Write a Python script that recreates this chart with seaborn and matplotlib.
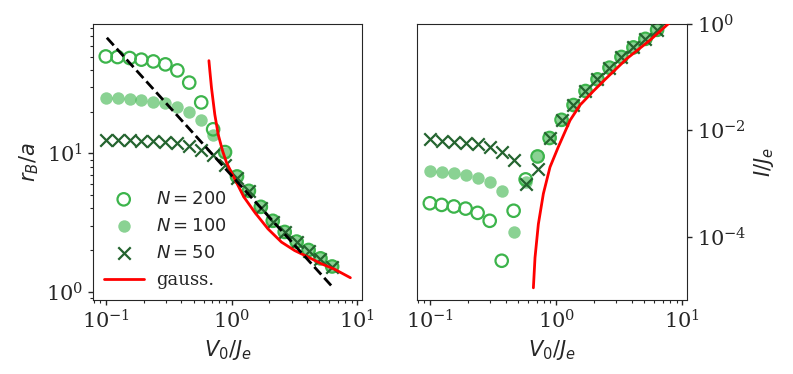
import matplotlib
matplotlib.use("Agg")
import matplotlib.pyplot as plt
from matplotlib.ticker import NullLocator, FixedLocator, LogLocator
import numpy as np
import pandas as pd
import seaborn as sns

# ---------------- data ----------------
v0 = [0.100, 0.124, 0.155, 0.192, 0.239, 0.298, 0.371, 0.461, 0.574, 0.714,
      0.888, 1.105, 1.374, 1.710, 2.128, 2.647, 3.293, 4.097, 5.097, 6.310]

# left panel: r_B / a
rb_n200 = [50.1, 49.6, 48.8, 47.5, 46.1, 43.9, 39.7, 32.4, 23.3, 14.9,
           10.2, 6.8, 5.35, 4.1, 3.25, 2.7, 2.3, 2.0, 1.74, 1.52]
rb_n100 = [25.2, 24.9, 24.5, 24.2, 23.5, 22.9, 21.7, 19.9, 17.4, 13.5,
           10.0, 6.8, 5.35, 4.1, 3.25, 2.7, 2.3, 2.0, 1.74, 1.52]
rb_n50 = [12.5, 12.5, 12.4, 12.3, 12.3, 12.1, 11.8, 11.3, 10.6, 9.7,
          8.2, 6.6, 5.3, 4.05, 3.2, 2.68, 2.28, 1.98, 1.73, 1.51]

gauss_left_x = [0.661, 0.673, 0.693, 0.736, 0.783, 0.849, 0.912, 1.005, 1.250,
                1.531, 1.950, 2.495, 3.177, 4.055, 5.176, 6.607, 8.81]
gauss_left_y = [46.7, 39.1, 29.7, 19.1, 13.7, 10.4, 8.57, 7.18, 4.85,
                3.74, 2.84, 2.28, 1.98, 1.78, 1.59, 1.45, 1.26]

dash_x = [0.102, 6.41]
dash_y = [68.4, 1.07]

# right panel: I / J_e
cur_n200 = [4.27e-4, 3.98e-4, 3.72e-4, 3.39e-4, 2.82e-4, 2.0e-4, 3.55e-5, 3.09e-4, 1.2e-3, 3.24e-3,
            7.2e-3, 1.58e-2, 3.0e-2, 5.5e-2, 9.1e-2, 0.151, 0.24, 0.363, 0.525, 0.776]
cur_n100 = [1.70e-3, 1.62e-3, 1.55e-3, 1.45e-3, 1.29e-3, 1.05e-3, 7.2e-4, 1.23e-4, 1.05e-3, 3.24e-3,
            7.6e-3, 1.58e-2, 3.0e-2, 5.5e-2, 9.1e-2, 0.151, 0.24, 0.363, 0.525, 0.776]
cur_n50 = [6.8e-3, 6.3e-3, 6.0e-3, 5.75e-3, 5.5e-3, 4.8e-3, 3.9e-3, 2.8e-3, 9.8e-4, 1.9e-3,
           7.2e-3, 1.58e-2, 3.0e-2, 5.5e-2, 9.1e-2, 0.151, 0.24, 0.363, 0.525, 0.776]

gauss_right_x = [0.661, 0.681, 0.724, 0.793, 0.895, 1.042, 1.291, 1.549, 1.977,
                 2.449, 3.64, 5.57, 7.55, 8.81]
gauss_right_y = [1.10e-5, 4.07e-5, 1.74e-4, 6.46e-4, 2.04e-3, 4.9e-3, 1.55e-2, 3.0e-2, 5.5e-2,
                 9.1e-2, 0.224, 0.50, 0.955, 1.3]

labels = ["$N=200$", "$N=100$", "$N=50$", "gauss."]

# ---------------- style ----------------
sns.set_style("ticks")
plt.rcParams["font.family"] = ["DejaVu Serif"]
plt.rcParams["mathtext.fontset"] = "dejavusans"
plt.rcParams["axes.edgecolor"] = "0.15"

c_open = "#3cb44b"
c_fill = "#3cb44b"
c_cross = "#24642f"
c_red = "#ff0000"

fig = plt.figure(figsize=(7.93, 3.74), dpi=100)
ax1 = fig.add_axes([0.1173, 0.1979, 0.3392, 0.738])
ax2 = fig.add_axes([0.5259, 0.1979, 0.3405, 0.738])

df_left = pd.DataFrame({"v0": v0, "n200": rb_n200, "n100": rb_n100, "n50": rb_n50})
df_right = pd.DataFrame({"v0": v0, "n200": cur_n200, "n100": cur_n100, "n50": cur_n50})


def draw(ax, df, gx, gy, with_label):
    sns.scatterplot(data=df, x="v0", y="n200", ax=ax, marker="o", s=80,
                    facecolor="none", edgecolor=c_open, linewidth=1.6,
                    label=labels[0] if with_label else None, zorder=2)
    sns.scatterplot(data=df, x="v0", y="n100", ax=ax, marker="o", s=80,
                    color=c_fill, alpha=0.6, linewidth=0,
                    label=labels[1] if with_label else None, zorder=3)
    sns.scatterplot(data=df, x="v0", y="n50", ax=ax, marker="x", s=80,
                    color=c_cross, linewidth=1.6,
                    label=labels[2] if with_label else None, zorder=4)
    sns.lineplot(x=gx, y=gy, ax=ax, color=c_red, linewidth=2,
                 label=labels[3] if with_label else None, zorder=5,
                 sort=False, estimator=None)


draw(ax1, df_left, gauss_left_x, gauss_left_y, True)
sns.lineplot(x=dash_x, y=dash_y, ax=ax1, color="black", linewidth=2,
             linestyle="--", zorder=6, sort=False, estimator=None)
draw(ax2, df_right, gauss_right_x, gauss_right_y, False)

for ax in (ax1, ax2):
    ax.set_xscale("log")
    ax.set_yscale("log")
    ax.set_xlim(0.0792, 10.9)
    ax.xaxis.set_minor_locator(LogLocator(base=10, subs=np.arange(2, 10) * 1.0, numticks=20))
    ax.set_xlabel("$V_0/J_e$", fontsize=15)
    ax.tick_params(axis="both", which="major", labelsize=15, length=3.5, width=1.0,
                   direction="out")
    ax.tick_params(axis="both", which="minor", length=2.2, width=0.8, direction="out")

ax1.set_ylim(0.87, 86)
ax1.yaxis.set_minor_locator(LogLocator(base=10, subs=np.arange(2, 10) * 1.0, numticks=20))
ax1.set_ylabel("$r_B/a$", fontsize=15)

ax2.set_ylim(6.5e-6, 1.0)
ax2.yaxis.tick_right()
ax2.yaxis.set_label_position("right")
ax2.yaxis.set_major_locator(FixedLocator([1e-4, 1e-2, 1.0]))
ax2.yaxis.set_minor_locator(NullLocator())
ax2.set_ylabel("$I/J_e$", fontsize=15)

leg = ax1.legend(loc="lower left", frameon=False, fontsize=13,
                 handlelength=2.2, labelspacing=0.5, borderaxespad=0.2,
                 handletextpad=0.7)
if ax2.get_legend() is not None:
    ax2.get_legend().remove()

fig.savefig("out.png", dpi=100)
